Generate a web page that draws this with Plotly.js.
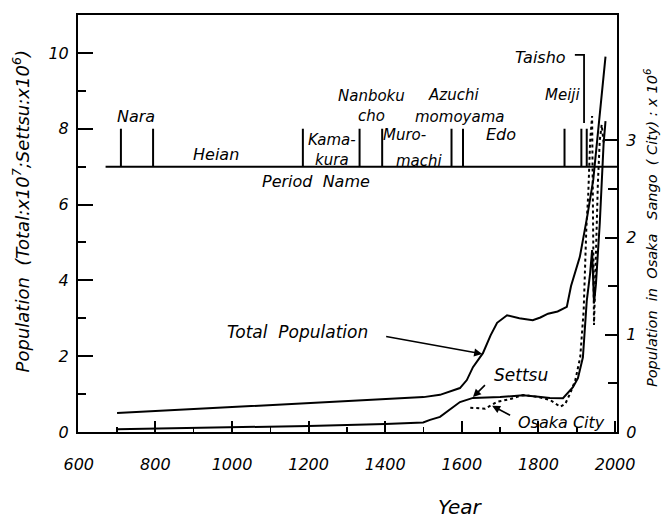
<!DOCTYPE html>
<html>
<head>
<meta charset="utf-8">
<script src="https://cdn.plot.ly/plotly-3.0.1.min.js"></script>
<style>html,body{margin:0;padding:0;background:#fff;}#chart{width:666px;height:518px;}</style>
</head>
<body>
<div id="chart"></div>
<script>
// ---- Data ----
// Total population of Japan (x10^7, left axis)
const totalYears = [700, 800, 1000, 1200, 1400, 1500, 1543, 1595, 1613, 1629, 1655, 1675, 1692, 1718, 1750, 1785, 1805, 1825, 1850, 1874, 1885, 1908, 1927, 1943, 1975];
const totalVals  = [0.50, 0.55, 0.66, 0.76, 0.86, 0.92, 0.98, 1.16, 1.37, 1.71, 2.08, 2.55, 2.88, 3.08, 3.00, 2.95, 3.02, 3.12, 3.18, 3.30, 3.85, 4.62, 5.67, 6.65, 9.90];

// Settsu population (x10^6, left axis)
const settsuYears = [700, 1000, 1200, 1400, 1499, 1517, 1543, 1595, 1629, 1700, 1760, 1800, 1830, 1864, 1890, 1903, 1916, 1926, 1935, 1940, 1945, 1950, 1960, 1970, 1975];
const settsuVals  = [0.07, 0.12, 0.16, 0.21, 0.25, 0.32, 0.40, 0.79, 0.90, 0.92, 0.97, 0.93, 0.90, 0.89, 1.18, 1.42, 1.97, 3.45, 4.20, 4.80, 3.40, 3.90, 5.50, 7.60, 8.20];

// Osaka Sango (City) population (x10^6, right axis)
const osakaYears = [1622, 1661, 1679, 1692, 1727, 1760, 1800, 1830, 1857, 1870, 1883, 1896, 1909, 1918, 1925, 1930, 1935, 1940, 1945, 1950, 1955, 1960, 1965, 1970];
const osakaVals  = [0.25, 0.24, 0.28, 0.31, 0.34, 0.38, 0.36, 0.33, 0.26, 0.29, 0.40, 0.53, 0.77, 1.25, 2.10, 2.45, 3.00, 3.25, 1.10, 1.96, 2.55, 3.00, 3.16, 2.98];

// Period time line
const periodBoundaries = [710, 794, 1185, 1333, 1392, 1573, 1603, 1868, 1912, 1926];
const timelineSpan = [670, 2005];
const timelineLevel = 7;
const boundaryTop = 8;

// Tick labels
const xTickVals = [600, 800, 1000, 1200, 1400, 1600, 1800, 2000];
const yLeftTicks = [0, 2, 4, 6, 8, 10];
const yRightTicks = [0, 1, 2, 3];

// ---- Build traces ----
const FONT = "DejaVu Sans, Verdana, sans-serif";
const bx = [], by = [];
periodBoundaries.forEach(b => { bx.push(b, b, null); by.push(timelineLevel, boundaryTop, null); });

const traces = [
  {x: totalYears, y: totalVals, mode: 'lines', line: {color: '#000', width: 2}, hoverinfo: 'skip'},
  {x: settsuYears, y: settsuVals, mode: 'lines', line: {color: '#000', width: 2}, hoverinfo: 'skip'},
  {x: osakaYears, y: osakaVals, yaxis: 'y2', mode: 'lines', line: {color: '#000', width: 2, dash: 'dot'}, hoverinfo: 'skip'},
  {x: timelineSpan, y: [timelineLevel, timelineLevel], mode: 'lines', line: {color: '#000', width: 2}, hoverinfo: 'skip'},
  {x: bx, y: by, mode: 'lines', line: {color: '#000', width: 2}, hoverinfo: 'skip'}
];

function lab(text, x, y, size, extra) {
  return Object.assign({text: text, x: x, y: y, xref: 'x', yref: 'y', showarrow: false,
    font: {family: FONT, size: size || 16, color: '#000', style: 'italic'}}, extra || {});
}

const annotations = [
  lab('Nara', 749, 8.31),
  lab('Heian', 958, 7.33),
  lab('Kama-<br>kura', 1262, 7.43, 15),
  lab('Nanboku<br>cho', 1365, 8.6, 15),
  lab('Muro-', 1449, 7.84, 15),
  lab('machi', 1490, 7.15, 15),
  lab('Azuchi', 1579, 8.89, 15),
  lab('momoyama', 1595, 8.31, 15),
  lab('Edo', 1702, 7.84),
  lab('Meiji', 1864, 8.89, 15),
  lab('Taisho', 1806, 9.89),
  lab('Period\u00a0\u00a0Name', 1219, 6.6),
  lab('Total\u00a0\u00a0Population', 1170, 2.63, 17),
  lab('Settsu', 1754, 1.5, 17),
  lab('Osaka\u00a0City', 1859, 0.26, 16),
  // leader arrows
  {x: 1653, y: 2.06, xref: 'x', yref: 'y', ax: -99, ay: -18, showarrow: true, arrowhead: 2, arrowsize: 1, arrowwidth: 1.6, arrowcolor: '#000', text: ' '},
  {x: 1629, y: 0.92, xref: 'x', yref: 'y', ax: 15, ay: -15, showarrow: true, arrowhead: 2, arrowsize: 1, arrowwidth: 1.6, arrowcolor: '#000', text: ' '},
  {x: 1679, y: 0.69, xref: 'x', yref: 'y', ax: 21, ay: 11, showarrow: true, arrowhead: 2, arrowsize: 1, arrowwidth: 1.6, arrowcolor: '#000', text: ' '},
  // axis titles
  {text: 'Population\u00a0\u00a0(Total:x10<sup>7</sup>;Settsu:x10<sup>6</sup>)', xref: 'paper', yref: 'paper', x: -0.105, y: 0.53, xanchor: 'center', yanchor: 'middle',
   textangle: -90, showarrow: false, font: {family: FONT, size: 18, color: '#000', style: 'italic'}},
  {text: 'Population\u00a0 in\u00a0 Osaka\u00a0\u00a0 Sango\u00a0 (\u00a0City)\u00a0:\u00a0x\u00a010<sup>6</sup>', xref: 'paper', yref: 'paper', x: 1.062, y: 0.49, xanchor: 'center', yanchor: 'middle',
   textangle: -90, showarrow: false, font: {family: FONT, size: 14.5, color: '#000', style: 'italic'}},
  {text: 'Year', xref: 'paper', yref: 'paper', x: 0.71, y: -0.18, xanchor: 'center', yanchor: 'middle',
   showarrow: false, font: {family: FONT, size: 20, color: '#000', style: 'italic'}}
];

const shapes = [
  {type: 'path', xref: 'x', yref: 'y', path: 'M1895,9.95 L1919,9.95 L1919,8.15', line: {color: '#000', width: 1.8}}
];

const tickFont = {family: FONT, size: 16, color: '#000', style: 'italic'};

const layout = {
  width: 666, height: 518,
  margin: {l: 78, r: 49, t: 15, b: 86, pad: 0},
  paper_bgcolor: '#fff', plot_bgcolor: '#fff',
  showlegend: false,
  xaxis: {
    range: [598, 2005], showgrid: false, zeroline: false,
    showline: true, mirror: true, linecolor: '#000', linewidth: 2,
    ticks: 'inside', ticklen: 11, tickwidth: 2, tickcolor: '#000',
    tickmode: 'array', tickvals: xTickVals, ticktext: xTickVals.map(String),
    minor: {dtick: 100, tick0: 600, ticks: 'inside', ticklen: 5, tickwidth: 1.5, tickcolor: '#000', showgrid: false},
    tickfont: tickFont, ticklabelstandoff: 17
  },
  yaxis: {
    range: [0, 11], showgrid: false, zeroline: false,
    showline: true, mirror: true, linecolor: '#000', linewidth: 2,
    ticks: 'inside', ticklen: 15, tickwidth: 2, tickcolor: '#000',
    tickmode: 'array', tickvals: yLeftTicks, ticktext: yLeftTicks.map(String),
    minor: {dtick: 1, tick0: 0, ticks: 'inside', ticklen: 8, tickwidth: 2, tickcolor: '#000', showgrid: false},
    tickfont: tickFont, ticklabelstandoff: 4
  },
  yaxis2: {
    overlaying: 'y', side: 'right', range: [0, 4.29], showgrid: false, zeroline: false,
    showline: true, linecolor: '#000', linewidth: 2,
    ticks: 'inside', ticklen: 12, tickwidth: 2, tickcolor: '#000',
    tickmode: 'array', tickvals: yRightTicks, ticktext: yRightTicks.map(String),
    minor: {tickmode: 'array', tickvals: [0.5, 1.5, 2.5], ticks: 'inside', ticklen: 9, tickwidth: 2, tickcolor: '#000', showgrid: false},
    tickfont: tickFont, ticklabelstandoff: 4
  },
  annotations: annotations,
  shapes: shapes
};

Plotly.newPlot('chart', traces, layout, {staticPlot: true, displayModeBar: false});
</script>
</body>
</html>
